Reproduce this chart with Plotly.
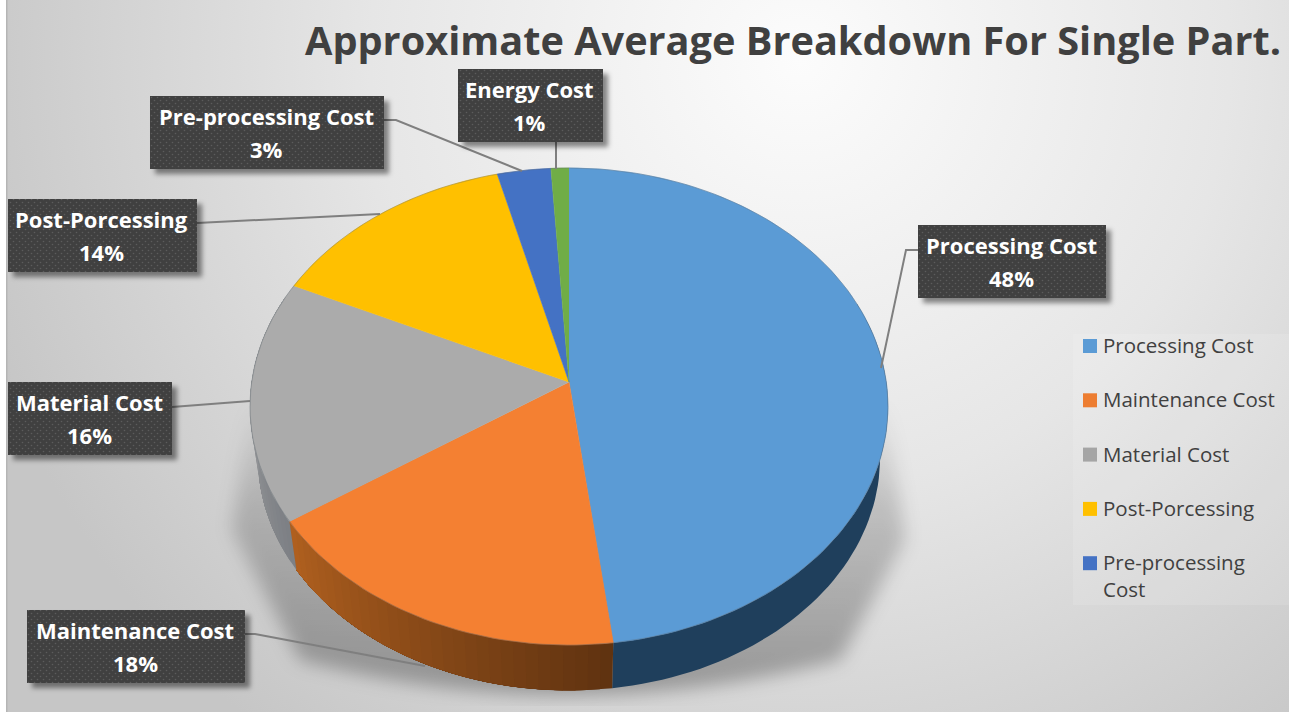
import base64, math
import plotly.graph_objects as go

# ---------- data ----------
categories = ["Processing Cost", "Maintenance Cost", "Material Cost", "Post-Porcessing", "Pre-processing Cost", "Energy Cost"]
values = [48, 17.6, 16.4, 14, 3, 1]
title_text = "Approximate Average Breakdown For Single Part."
legend_labels = ["Processing Cost", "Maintenance Cost", "Material Cost", "Post-Porcessing", "Pre-processing<br>Cost"]

# ---------- style ----------
W, H = 1289, 715
top_colors = ["#5B9BD5", "#F48032", "#ABABAB", "#FFC000", "#4472C4", "#70AD47"]
legend_colors = ["#5B9BD5", "#ED7D31", "#A5A5A5", "#FFC000", "#4472C4"]
wall_from = ["#1F3F5C", "#5F3210", "#7C7F84", "#7F6000", "#264478", "#43682B"]
wall_to = ["#1F3F5C", "#B0601F", "#ABABAB", "#7F6000", "#264478", "#43682B"]
FONT = "Open Sans"

# perspective disc geometry (pixels)
CX, CY, A, B, K = 569, 382, 317.3, 236, 0.1027
DEPTH, SHRINK = 52, 0.975


def rim(theta_deg, bottom=False):
    t = math.radians(theta_deg)
    d = 1 + K * math.cos(t)
    x, y = A * math.sin(t) / d, -B * math.cos(t) / d
    if bottom:
        return CX + SHRINK * x, CY + DEPTH + SHRINK * y
    return CX + x, CY + y


def mix(c1, c2, f):
    a = [int(c1[i:i + 2], 16) for i in (1, 3, 5)]
    b = [int(c2[i:i + 2], 16) for i in (1, 3, 5)]
    return "rgb(%d,%d,%d)" % tuple(round(p + (q - p) * f) for p, q in zip(a, b))


total = sum(values)
edges = [0]
for v in values:
    edges.append(edges[-1] + v / total * 360)

fig = go.Figure()


def poly(xs, ys, color, name, width=0.6):
    fig.add_trace(go.Scatter(x=xs, y=ys, mode="lines", fill="toself", fillcolor=color,
                             line=dict(color=color, width=width), hoverinfo="skip",
                             name=name, showlegend=False))


# walls: painted from the far end so that each strip overlaps the previous one
for i, name in enumerate(categories):
    lo, hi = max(edges[i], 70), min(edges[i + 1], 292)
    if lo >= hi:
        continue
    n = 1 if wall_from[i] == wall_to[i] else max(1, int((hi - lo) / 2))
    for s in range(n):
        t1 = lo + (hi - lo) * s / n
        steps = [t1 + (hi - t1) * k / 60 for k in range(61)]
        top = [rim(t) for t in steps]
        bot = [rim(t, True) for t in reversed(steps)]
        p = top + bot
        poly([q[0] for q in p], [q[1] for q in p], mix(wall_from[i], wall_to[i], (s + .5) / n), name, 0)

# top face
for i, name in enumerate(categories):
    n = max(2, int((edges[i + 1] - edges[i]) / 1.5))
    pts = [(CX, CY)] + [rim(edges[i] + (edges[i + 1] - edges[i]) * s / n) for s in range(n + 1)]
    poly([q[0] for q in pts], [q[1] for q in pts], top_colors[i], name)

# rim hairline
rimpts = [rim(a) for a in range(0, 361, 2)]
fig.add_trace(go.Scatter(x=[q[0] for q in rimpts], y=[q[1] for q in rimpts], mode="lines",
                         line=dict(color="rgba(90,100,110,0.45)", width=0.8), hoverinfo="skip", showlegend=False))

# data-label boxes: left, top, right, bottom
boxes = {
    "Processing Cost": (918, 225, 1106, 298),
    "Maintenance Cost": (27, 610, 245, 683),
    "Material Cost": (8, 382, 172, 455),
    "Post-Porcessing": (8, 199, 197, 272),
    "Pre-processing Cost": (150, 96, 384, 169),
    "Energy Cost": (458, 69, 603, 142),
}
leaders = {
    "Processing Cost": [(918, 250), (906, 250), (881, 368)],
    "Maintenance Cost": [(245, 634), (255, 634), (425, 666)],
    "Material Cost": [(172, 407), (250, 401)],
    "Post-Porcessing": [(197, 223), (380, 214)],
    "Pre-processing Cost": [(384, 120), (396, 120), (522, 171)],
    "Energy Cost": [(556, 142), (556, 169)],
}
for name, pts in leaders.items():
    fig.add_trace(go.Scatter(x=[p[0] for p in pts], y=[p[1] for p in pts], mode="lines",
                             line=dict(color="#7F7F7F", width=2), hoverinfo="skip", showlegend=False))

# legend swatches
LEG_X, LEG_Y, LEG_STEP = 1090, 346, 54.3
fig.add_trace(go.Scatter(x=[LEG_X] * len(legend_labels),
                         y=[LEG_Y + LEG_STEP * i for i in range(len(legend_labels))],
                         mode="markers", marker=dict(symbol="square", size=14, color=legend_colors,
                                                     line=dict(width=0)),
                         hoverinfo="skip", showlegend=False))

ann = [dict(x=1283, y=40, text="<b>%s</b>" % title_text, xanchor="right", yanchor="middle", showarrow=False,
            font=dict(family=FONT, size=39.7, color="#404040"))]
for name, v in zip(categories, values):
    l, t, r, b = boxes[name]
    ann.append(dict(x=(l + r) / 2 - 1, y=t + 20, text="<b>%s</b>" % name, showarrow=False, xanchor="center",
                    yanchor="middle", font=dict(family=FONT, size=22, color="#FFFFFF")))
    ann.append(dict(x=(l + r) / 2 - 1, y=t + 53, text="<b>%d%%</b>" % round(v), showarrow=False, xanchor="center",
                    yanchor="middle", font=dict(family=FONT, size=22, color="#FFFFFF")))
for i, lab in enumerate(legend_labels):
    ann.append(dict(x=1101, y=LEG_Y - 17 + LEG_STEP * i, text=lab, showarrow=False, xanchor="left", yanchor="top",
                    align="left", font=dict(family=FONT, size=20.5, color="#404040")))

bg_svg = f'''<svg xmlns="http://www.w3.org/2000/svg" width="{W}" height="{H}" viewBox="0 0 {W} {H}">
<defs>
<radialGradient id="g" gradientUnits="userSpaceOnUse" cx="800" cy="60" r="860">
<stop offset="0" stop-color="#FCFCFC"/><stop offset="0.5" stop-color="#E6E6E6"/><stop offset="1" stop-color="#C6C6C6"/>
</radialGradient>
<linearGradient id="s" x1="0" y1="0" x2="0" y2="1">
<stop offset="0" stop-color="#000" stop-opacity="0"/><stop offset="0.35" stop-color="#000" stop-opacity="0.16"/><stop offset="1" stop-color="#000" stop-opacity="0.30"/>
</linearGradient>
<filter id="b" x="-20%" y="-20%" width="140%" height="140%"><feGaussianBlur stdDeviation="9"/></filter>
<clipPath id="c"><rect x="6" y="0" width="{W - 6}" height="706"/></clipPath>
</defs>
<rect width="{W}" height="{H}" fill="#FFFFFF"/>
<rect x="6" y="0" width="{W - 6}" height="712" fill="url(#g)"/>
<rect x="6" y="0" width="1.5" height="712" fill="#B5B5B5"/>
<g clip-path="url(#c)"><path d="M250 400 L232 530 L300 660 Q570 730 840 660 L905 540 L886 400 Z" fill="url(#s)" filter="url(#b)"/></g>
<rect x="1073" y="334" width="216" height="271" fill="#FFFFFF" fill-opacity="0.12"/>
</svg>'''

rects = ""
for l, t, r, b in boxes.values():
    rects += f'<rect x="{l + 5}" y="{t + 5}" width="{r - l}" height="{b - t}" fill="#000" fill-opacity="0.45" filter="url(#sb)"/>'
    rects += f'<rect x="{l}" y="{t}" width="{r - l}" height="{b - t}" fill="url(#dots)"/>'
fg_svg = f'''<svg xmlns="http://www.w3.org/2000/svg" width="{W}" height="{H}" viewBox="0 0 {W} {H}">
<defs>
<pattern id="dots" width="6" height="6" patternUnits="userSpaceOnUse">
<rect width="6" height="6" fill="#404040"/><circle cx="1.5" cy="1.5" r="0.8" fill="#5C5C5C"/><circle cx="4.5" cy="4.5" r="0.8" fill="#5C5C5C"/>
</pattern>
<filter id="sb" x="-20%" y="-30%" width="140%" height="160%"><feGaussianBlur stdDeviation="2.5"/></filter>
</defs>{rects}</svg>'''


def uri(s):
    return "data:image/svg+xml;base64," + base64.b64encode(s.encode()).decode()


full = dict(xref="paper", yref="paper", x=0, y=1, sizex=1, sizey=1, xanchor="left", yanchor="top", sizing="stretch")
fig.update_layout(
    width=W, height=H, margin=dict(l=0, r=0, t=0, b=0), showlegend=False,
    paper_bgcolor="#FFFFFF", plot_bgcolor="rgba(0,0,0,0)",
    xaxis=dict(range=[0, W], visible=False, fixedrange=True),
    yaxis=dict(range=[H, 0], visible=False, fixedrange=True),
    images=[dict(source=uri(bg_svg), layer="below", **full), dict(source=uri(fg_svg), layer="above", **full)],
    annotations=ann,
)
fig.write_html("out.html", config=dict(displayModeBar=False), post_script="document.body.style.margin='0';")
